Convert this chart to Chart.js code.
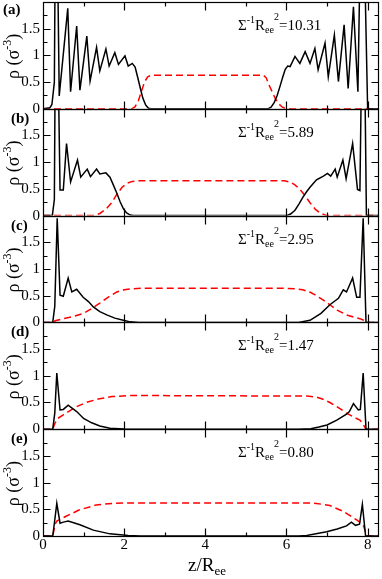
<!DOCTYPE html>
<html>
<head>
<meta charset="utf-8">
<script src="https://cdn.jsdelivr.net/npm/chart.js@4.4.1/dist/chart.umd.min.js"></script>
<style>
  html, body { margin: 0; padding: 0; background: #fff; }
  #wrap { position: relative; width: 382px; height: 579px; }
</style>
</head>
<body>
<div id="wrap"><canvas id="density-chart" width="382" height="579"></canvas></div>
<script>
// panel tags and the Sigma^-1 R_ee^2 value written in each panel
const panelNames = ['(a)', '(b)', '(c)', '(d)', '(e)'];
const coverage = ['10.31', '5.89', '2.95', '1.47', '0.80'];

// z / R_ee positions and densities, black solid and red dashed curve of each panel
const aBlackZ = [0, 0.17, 0.22, 0.28, 0.31, 0.34, 0.40, 0.61, 0.68, 0.83, 0.91, 1.08, 1.16, 1.32, 1.40, 1.55, 1.63, 1.77, 1.86, 2.02, 2.10, 2.20, 2.27, 2.33, 2.40, 2.46, 2.53, 2.60, 2.66,
  5.54, 5.62, 5.70, 5.77, 5.84, 5.91, 5.97, 6.03, 6.09, 6.21, 6.33, 6.46, 6.58, 6.70, 6.78, 6.95, 7.03, 7.18, 7.28, 7.42, 7.52, 7.65, 7.76, 7.84, 7.89, 8.00, 8.28];
const aBlackRho = [0, 0.02, 0.08, 0.5, 4.0, 4.0, 0.24, 1.88, 0.32, 1.55, 0.35, 1.36, 0.52, 1.15, 0.71, 1.12, 0.80, 1.05, 0.83, 0.99, 0.80, 0.85, 0.78, 0.60, 0.38, 0.20, 0.07, 0.01, 0,
  0, 0.03, 0.12, 0.25, 0.42, 0.60, 0.74, 0.80, 0.79, 0.98, 0.85, 1.07, 0.85, 1.13, 0.73, 1.23, 0.60, 1.38, 0.51, 1.57, 0.38, 1.91, 0.32, 4.0, 4.0, 0, 0];
const aRedZ = [0, 2.19, 2.27, 2.35, 2.42, 2.50, 2.58, 2.68, 5.43, 5.50, 5.56, 5.64, 5.72, 5.80, 5.90, 6.00, 8.28];
const aRedRho = [0, 0, 0.04, 0.15, 0.31, 0.50, 0.60, 0.63, 0.63, 0.58, 0.46, 0.33, 0.20, 0.10, 0.03, 0, 0];

const bBlackZ = [0, 0.23, 0.28, 0.31, 0.35, 0.42, 0.50, 0.58, 0.68, 0.85, 0.93, 1.09, 1.17, 1.32, 1.40, 1.55, 1.65, 1.73, 1.82, 1.90, 1.98, 2.06, 2.15, 2.22,
  6.00, 6.10, 6.21, 6.31, 6.41, 6.50, 6.58, 6.66, 6.74, 6.91, 7.01, 7.09, 7.20, 7.25, 7.39, 7.47, 7.63, 7.75, 7.81, 7.87, 7.91, 7.97, 8.28];
const bBlackRho = [0, 0, 0.3, 4.0, 4.0, 0.48, 0.48, 1.35, 0.63, 1.04, 0.72, 0.87, 0.73, 0.87, 0.78, 0.80, 0.72, 0.58, 0.42, 0.26, 0.13, 0.05, 0.01, 0,
  0, 0.03, 0.10, 0.22, 0.35, 0.45, 0.53, 0.60, 0.67, 0.74, 0.79, 0.74, 0.87, 0.72, 1.04, 0.69, 1.35, 0.49, 0.47, 4.0, 4.0, 0, 0];
const bRedZ = [0, 1.25, 1.40, 1.55, 1.70, 1.82, 1.95, 2.08, 2.20, 2.35, 5.95, 6.08, 6.20, 6.32, 6.45, 6.58, 6.72, 6.85, 6.99, 8.28];
const bRedRho = [0, 0, 0.04, 0.12, 0.25, 0.40, 0.53, 0.61, 0.64, 0.65, 0.65, 0.63, 0.58, 0.50, 0.38, 0.24, 0.11, 0.04, 0, 0];

const cBlackZ = [0, 0.24, 0.29, 0.35, 0.42, 0.50, 0.62, 0.71, 0.83, 0.99, 1.12, 1.24, 1.40, 1.57, 1.77, 1.98, 2.15, 2.35,
  6.30, 6.58, 6.85, 7.07, 7.28, 7.40, 7.48, 7.63, 7.73, 7.81, 7.89, 7.96, 8.28];
const cBlackRho = [0, 0, 0.3, 1.95, 0.51, 0.49, 0.83, 0.57, 0.62, 0.47, 0.39, 0.29, 0.20, 0.14, 0.08, 0.04, 0.01, 0,
  0, 0.04, 0.17, 0.33, 0.45, 0.61, 0.57, 0.83, 0.47, 0.47, 1.95, 0, 0];
const cRedZ = [0, 0.25, 0.30, 0.50, 0.75, 1.00, 1.20, 1.40, 1.60, 1.82, 2.00, 2.20, 2.50, 5.90, 6.20, 6.40, 6.60, 6.74, 6.90, 7.07, 7.25, 7.48, 7.65, 7.81, 7.90, 7.96, 8.28];
const cRedRho = [0, 0, 0.03, 0.07, 0.11, 0.17, 0.26, 0.36, 0.47, 0.57, 0.61, 0.63, 0.64, 0.64, 0.63, 0.61, 0.56, 0.50, 0.42, 0.33, 0.23, 0.14, 0.10, 0.07, 0.04, 0, 0];

const dBlackZ = [0, 0.24, 0.29, 0.34, 0.42, 0.50, 0.62, 0.83, 1.00, 1.20, 1.40, 1.65, 2.00, 2.30,
  6.30, 6.60, 6.80, 7.00, 7.24, 7.48, 7.55, 7.65, 7.77, 7.82, 7.89, 7.96, 8.28];
const dBlackRho = [0, 0, 0.3, 1.05, 0.36, 0.37, 0.45, 0.33, 0.20, 0.12, 0.06, 0.02, 0.005, 0,
  0, 0.01, 0.04, 0.08, 0.17, 0.28, 0.33, 0.48, 0.36, 0.37, 1.05, 0, 0];
const dRedZ = [0, 0.24, 0.30, 0.36, 0.50, 0.82, 1.10, 1.39, 1.70, 2.13, 2.50, 6.50, 6.75, 6.90, 7.07, 7.25, 7.48, 7.65, 7.81, 7.90, 7.96, 8.28];
const dRedRho = [0, 0, 0.12, 0.20, 0.27, 0.42, 0.51, 0.57, 0.61, 0.63, 0.63, 0.62, 0.60, 0.56, 0.50, 0.42, 0.30, 0.23, 0.17, 0.08, 0, 0];

const eBlackZ = [0, 0.24, 0.29, 0.34, 0.42, 0.50, 0.62, 0.91, 1.24, 1.65, 2.10, 2.40,
  6.30, 6.50, 6.99, 7.25, 7.48, 7.60, 7.70, 7.80, 7.87, 7.95, 8.28];
const eBlackRho = [0, 0, 0.3, 0.61, 0.24, 0.26, 0.28, 0.21, 0.11, 0.04, 0.01, 0,
  0, 0.01, 0.08, 0.13, 0.19, 0.26, 0.20, 0.22, 0.59, 0, 0];
const eRedZ = [0, 0.24, 0.30, 0.34, 0.57, 0.90, 1.31, 1.70, 2.13, 2.50, 6.50, 6.74, 7.07, 7.40, 7.73, 7.89, 7.98, 8.28];
const eRedRho = [0, 0, 0.22, 0.28, 0.37, 0.49, 0.58, 0.61, 0.62, 0.62, 0.62, 0.61, 0.57, 0.46, 0.30, 0.21, 0, 0];

const curves = [
    [aBlackZ, aBlackRho, aRedZ, aRedRho],
    [bBlackZ, bBlackRho, bRedZ, bRedRho],
    [cBlackZ, cBlackRho, cRedZ, cRedRho],
    [dBlackZ, dBlackRho, dRedZ, dRedRho],
    [eBlackZ, eBlackRho, eRedZ, eRedRho],
];

const serif = '"Liberation Serif", "Times New Roman", serif';

const pts = (zs, rs) => zs.map((z, i) => ({ x: z, y: rs[i] }));

// text made of pieces with their own size and baseline shift (sub/superscripts)
function pieceWidth(ctx, pieces) {
    let w = 0;
    for (const [txt, size] of pieces) {
        ctx.font = size + 'px ' + serif;
        w += ctx.measureText(txt).width;
    }
    return w;
}

function drawPieces(ctx, x, y, pieces, bold) {
    for (const [txt, size, dy] of pieces) {
        ctx.font = (bold ? 'bold ' : '') + size + 'px ' + serif;
        ctx.fillText(txt, x, y + dy);
        x += ctx.measureText(txt).width;
    }
}

const decorations = {
    id: 'decorations',
    afterDraw(chart) {
        const ctx = chart.ctx;
        const xs = chart.scales.x;
        const left = Math.round(xs.left) + 0.5;
        const right = Math.round(xs.right) - 0.5;

        ctx.save();
        ctx.strokeStyle = '#000';
        ctx.fillStyle = '#000';
        ctx.lineWidth = 1.2;
        ctx.textBaseline = 'alphabetic';

        panelNames.forEach((name, i) => {
            const ys = chart.scales['y' + i];
            const top = Math.round(ys.top) + 0.5;
            const bottom = Math.round(ys.bottom) + 0.5;

            ctx.strokeRect(left, top, right - left, bottom - top);

            // inward ticks on all four sides
            ctx.beginPath();
            for (let v = 0.25; v < 2; v += 0.25) {
                const y = Math.round(ys.getPixelForValue(v)) + 0.5;
                const len = (v * 2) % 1 === 0 ? 7 : 4;
                ctx.moveTo(left, y); ctx.lineTo(left + len, y);
                ctx.moveTo(right, y); ctx.lineTo(right - len, y);
            }
            for (let v = 1; v <= 8; v += 1) {
                const x = Math.round(xs.getPixelForValue(v)) + 0.5;
                const len = v % 2 === 0 ? 8 : 4;
                ctx.moveTo(x, bottom); ctx.lineTo(x, bottom - len);
                ctx.moveTo(x, top); ctx.lineTo(x, top + len);
            }
            ctx.stroke();

            // panel tag
            ctx.textAlign = 'left';
            drawPieces(ctx, i === 0 ? 3 : 11, ys.top + (i === 0 ? 12 : 14), [[name, 15, 0]], true);

            // y title, rotated
            const yTitle = [['\u03c1 (\u03c3', 18, 0], ['-3', 12, -8], [')', 18, 0]];
            const w = pieceWidth(ctx, yTitle);
            ctx.save();
            ctx.translate(19, (ys.top + ys.bottom) / 2 + 1);
            ctx.rotate(-Math.PI / 2);
            drawPieces(ctx, -w / 2, 0, yTitle);
            ctx.restore();

            // Sigma^-1 R_ee^2 = value
            drawPieces(ctx, 238, ys.top + 28, [
                ['\u03a3', 15, 0], ['-1', 10, -7], ['R', 15, 0], ['ee', 10, 3], ['2', 10, -10], ['=' + coverage[i], 15, 0]
            ]);
        });

        // x title z/R_ee
        const xTitle = [['z/R', 19, 0], ['ee', 13, 4]];
        const xw = pieceWidth(ctx, xTitle);
        drawPieces(ctx, (xs.left + xs.right) / 2 - xw / 2 - 4, 571, xTitle);
        ctx.restore();
    }
};

const tickFont = { family: serif, size: 15 };

const scales = {
    x: {
        type: 'linear',
        position: 'bottom',
        min: 0,
        max: 8.28,
        ticks: { stepSize: 2, includeBounds: false, autoSkip: false, color: '#000', font: tickFont, padding: 0, maxRotation: 0 },
        grid: { display: false, drawTicks: false },
        border: { display: false },
        afterFit: s => { s.height = 43; s.paddingLeft = 0; s.paddingRight = 0; },
    },
};

const datasets = [];
curves.forEach((c, i) => {
    scales['y' + i] = {
        type: 'linear',
        position: 'left',
        stack: 'rho',
        stackWeight: 1,
        weight: 4 - i,
        min: 0,
        max: 1.999,
        ticks: {
            stepSize: 0.5,
            includeBounds: false,
            autoSkip: false,
            color: '#000',
            font: tickFont,
            padding: 3,
            callback: v => String(v),
        },
        grid: { display: false, drawTicks: false },
        border: { display: false },
        afterFit: s => { s.width = 43; s.paddingTop = 0; s.paddingBottom = 0; },
    };
    datasets.push({
        label: 'black ' + panelNames[i],
        data: pts(c[0], c[1]),
        borderColor: '#000',
        borderWidth: 1.5,
        pointRadius: 0,
        tension: 0,
        yAxisID: 'y' + i,
    });
    datasets.push({
        label: 'red ' + panelNames[i],
        data: pts(c[2], c[3]),
        borderColor: '#ff0000',
        borderWidth: 1.5,
        borderDash: [7, 4],
        pointRadius: 0,
        tension: 0,
        yAxisID: 'y' + i,
    });
});

new Chart(document.getElementById('density-chart'), {
    type: 'line',
    data: { datasets },
    options: {
        responsive: false,
        animation: false,
        devicePixelRatio: 1,
        layout: { padding: { top: 2, right: 3, left: 0, bottom: 0 } },
        scales,
        plugins: {
            legend: { display: false },
            tooltip: { enabled: false },
        },
    },
    plugins: [decorations],
});
</script>
</body>
</html>
